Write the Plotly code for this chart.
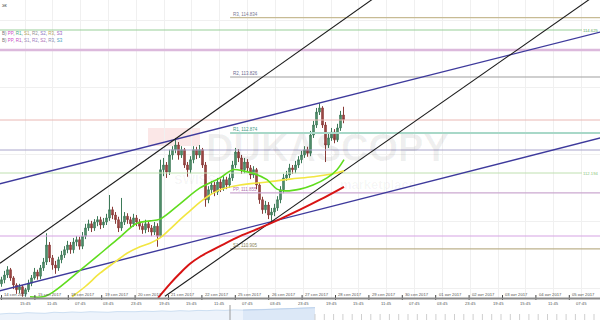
import plotly.graph_objects as go

# ---------------- data ----------------
bar_open = [110.31,110.38,110.46,110.55,110.41,110.29,110.21,110.26,110.14,110.21,
            110.32,110.41,110.51,110.44,110.58,110.68,110.97,110.75,110.63,110.58,
            110.72,110.80,110.89,110.97,110.89,111.02,111.06,110.95,111.12,111.26,
            111.33,111.26,111.36,111.40,111.31,111.36,111.43,111.57,111.48,111.40,
            111.26,111.36,111.46,111.40,111.33,111.43,111.36,111.29,111.23,111.33,
            111.26,111.19,111.29,111.12,112.25,112.33,112.21,112.50,112.59,112.67,
            112.50,112.59,112.33,112.25,112.42,112.59,112.50,112.59,112.33,111.74,
            111.91,111.99,111.87,112.04,111.94,112.08,111.99,112.11,112.33,112.55,
            112.45,112.25,112.38,112.28,112.16,112.25,111.99,111.74,111.57,111.65,
            111.48,111.53,111.60,111.74,111.91,112.11,112.16,112.28,112.25,112.33,
            112.42,112.50,112.59,112.53,112.84,113.01,113.23,113.30,113.01,112.67,
            112.79,112.89,112.76,112.96,113.18]
bar_high = [110.43,110.53,110.61,110.58,110.44,110.32,110.31,110.29,110.24,110.38,
            110.46,110.58,110.55,110.63,110.75,111.17,111.02,110.80,110.70,110.77,
            110.87,110.95,111.04,111.02,111.09,111.12,111.11,111.19,111.33,111.40,
            111.38,111.41,111.46,111.45,111.43,111.50,111.82,111.62,111.53,111.45,
            111.77,111.53,111.51,111.45,111.50,111.48,111.41,111.34,111.40,111.38,
            111.31,111.36,111.34,112.42,112.45,112.38,112.59,112.65,112.79,112.72,
            112.65,112.62,112.38,112.48,112.65,112.64,112.67,112.62,112.38,111.97,
            112.06,112.04,112.11,112.09,112.14,112.13,112.18,112.40,112.62,112.60,
            112.50,112.45,112.43,112.33,112.31,112.28,112.04,111.79,111.72,111.70,
            111.60,111.67,111.80,111.97,112.18,112.23,112.35,112.33,112.40,112.48,
            112.57,112.65,112.64,112.91,113.08,113.30,113.38,113.33,113.06,112.86,
            112.96,112.94,113.03,113.25,113.32]
bar_low = [110.26,110.32,110.41,110.36,110.22,110.14,110.15,110.09,110.09,110.17,
           110.27,110.38,110.38,110.39,110.53,110.63,110.68,110.55,110.48,110.53,
           110.66,110.75,110.83,110.82,110.83,110.95,110.89,110.90,111.07,111.21,
           111.19,111.21,111.29,111.24,111.26,111.31,111.38,111.41,111.33,111.19,
           111.21,111.31,111.33,111.26,111.28,111.29,111.23,111.16,111.17,111.19,
           111.12,111.14,110.94,111.09,112.14,112.11,112.16,112.42,112.53,112.42,
           112.45,112.28,112.13,112.19,112.36,112.43,112.45,112.28,111.62,111.68,
           111.84,111.80,111.82,111.87,111.89,111.92,111.94,112.06,112.28,112.38,
           112.18,112.19,112.21,112.09,112.11,111.92,111.67,111.50,111.51,111.41,
           111.38,111.46,111.55,111.68,111.85,112.06,112.11,112.18,112.19,112.28,
           112.36,112.45,112.47,112.48,112.79,112.96,113.18,112.96,112.38,112.62,
           112.74,112.70,112.72,112.91,113.04]
bar_close = [110.38,110.46,110.55,110.41,110.29,110.21,110.26,110.14,110.21,110.32,
             110.41,110.51,110.44,110.58,110.68,110.97,110.75,110.63,110.58,110.72,
             110.80,110.89,110.97,110.89,111.02,111.06,110.95,111.12,111.26,111.33,
             111.26,111.36,111.40,111.31,111.36,111.43,111.57,111.48,111.40,111.26,
             111.36,111.46,111.40,111.33,111.43,111.36,111.29,111.23,111.33,111.26,
             111.19,111.29,111.12,112.25,112.33,112.21,112.50,112.59,112.67,112.50,
             112.59,112.33,112.25,112.42,112.59,112.50,112.59,112.33,111.74,111.91,
             111.99,111.87,112.04,111.94,112.08,111.99,112.11,112.33,112.55,112.45,
             112.25,112.38,112.28,112.16,112.25,111.99,111.74,111.57,111.65,111.48,
             111.53,111.60,111.74,111.91,112.11,112.16,112.28,112.25,112.33,112.42,
             112.50,112.59,112.53,112.84,113.01,113.23,113.30,113.01,112.67,112.79,
             112.89,112.76,112.96,113.18,113.10]
bar_index = list(range(len(bar_close)))

ma_green_x = [9.5,13.83,17.17,27.17,38.5,45.17,49.5,52.83,59.5,66.17,72.83,77.17,80.5,83.83,88.5,91.83,94.5,99.5,103.83,108.5,111.83,114.17]
ma_green_y = [110.09,110.09,110.17,110.58,111.06,111.34,111.38,111.41,111.67,111.94,112.11,112.25,112.23,112.19,112.08,111.92,111.89,111.92,111.99,112.11,112.25,112.42]
ma_yellow_x = [23.5,27.83,32.83,37.83,41.83,46.17,49.5,52.83,56.17,59.5,62.83,66.17,69.5,72.83,79.5,88.5,96.17,103.83,110.5,114.17]
ma_yellow_y = [110.09,110.26,110.49,110.68,110.83,110.94,111.00,111.09,111.24,111.40,111.55,111.70,111.82,111.91,111.99,112.04,112.09,112.13,112.18,112.23]
ma_red_x = [52.17,56.17,59.5,62.83,66.17,72.83,79.5,86.17,92.83,99.5,106.17,114.17]
ma_red_y = [110.07,110.31,110.49,110.65,110.77,110.95,111.12,111.26,111.41,111.57,111.74,111.96]

trend_black1 = ([-0.5, 132.83], [110.66, 115.48])
trend_black2 = ([54.5, 202.83], [110.10, 115.39])
trend_blue1 = ([-2.17, 201.17], [111.99, 114.61])
trend_blue2 = ([-2.17, 201.17], [110.17, 112.81])

full_levels = [114.625, 114.285, 113.095, 112.585, 112.194, 111.123]
full_colors = ["#98cf98", "#dcb9dc", "#eab8b4", "#aaa6cc", "#bfe0b0", "#d6a3e4"]
full_widths = [1, 2.5, 1, 1, 1, 1.2]
full_end = [193.5, 199.5, 199.5, 199.5, 193.5, 199.5]

week_names = ["R3", "R2", "R1", "PP", "S1"]
week_levels = [114.834, 113.826, 112.874, 111.855, 110.905]
week_colors = ["#c7bb94", "#a0a0a0", "#a8d8c8", "#cba8d0", "#bdb28c"]
week_widths = [1.2, 1.2, 2.2, 1.2, 1.2]
week_text = ["#7a7a95", "#6a6a90", "#3f9a86", "#b070b0", "#8a7f55"]
week_start = 76.2

date_labels = ["14 сен 2017","15 сен 2017","18 сен 2017","19 сен 2017","20 сен 2017","21 сен 2017",
               "22 сен 2017","25 сен 2017","26 сен 2017","27 сен 2017","28 сен 2017","29 сен 2017",
               "30 сен 2017","01 окт 2017","02 окт 2017","03 окт 2017","04 окт 2017","05 окт 2017"]
time_labels = ["19:45","15:45","11:45","07:45","03:45","23:45","19:45","15:45","11:45","07:45","03:45",
               "23:45","19:45","15:45","11:45","07:45","03:45","23:45","19:45","15:45","11:45","07:45"]

nav_vals = [0.45,0.5,0.48,0.55,0.52,0.5,0.58,0.55,0.6,0.57,0.62,0.6,0.58,0.63,0.6,0.62,0.66,0.64,
            0.68,0.65,0.7,0.67,0.72,0.7,0.74,0.72,0.76,0.74,0.78,0.77,0.8,0.82,0.85,0.83,0.88,0.92]

# ---------------- layout helpers ----------------
W, H = 600, 320
PX_PER_BAR = 3.0
DAY_BARS = 33.4 / PX_PER_BAR
TICK_BARS = 27.83 / PX_PER_BAR
date_ticks = [DAY_BARS * k for k in range(len(date_labels))]
time_ticks = [(25 - 1.5) / PX_PER_BAR + TICK_BARS * (k - 1) for k in range(len(time_labels))]
FONT = "Liberation Sans, Arial, sans-serif"

def py(pix):  # paper y from pixel from top
    return 1 - pix / H

fig = go.Figure()

for lv, c, w, e in zip(full_levels, full_colors, full_widths, full_end):
    fig.add_trace(go.Scatter(x=[-0.5, e], y=[lv, lv], mode="lines",
                             line=dict(color=c, width=w), hoverinfo="skip"))
for lv, c, w in zip(week_levels, week_colors, week_widths):
    fig.add_trace(go.Scatter(x=[week_start, 199.5], y=[lv, lv], mode="lines",
                             line=dict(color=c, width=w), hoverinfo="skip"))

for (tx, ty), c, w in [(trend_blue1, "#3e3a9c", 1.4), (trend_blue2, "#3e3a9c", 1.4),
                       (trend_black1, "#1c1c1c", 1.1), (trend_black2, "#1c1c1c", 1.1)]:
    fig.add_trace(go.Scatter(x=tx, y=ty, mode="lines", line=dict(color=c, width=w), hoverinfo="skip"))

fig.add_trace(go.Candlestick(x=bar_index, open=bar_open, high=bar_high, low=bar_low, close=bar_close,
                             increasing=dict(line=dict(color="#3d7a58", width=1), fillcolor="#5f9c78"),
                             decreasing=dict(line=dict(color="#8a3b38", width=1), fillcolor="#a8514d"),
                             whiskerwidth=0))

fig.add_trace(go.Scatter(x=ma_yellow_x, y=ma_yellow_y, mode="lines", line=dict(color="#f2e641", width=1.6, shape="spline")))
fig.add_trace(go.Scatter(x=ma_green_x, y=ma_green_y, mode="lines", line=dict(color="#5fdc1e", width=1.6, shape="spline")))
fig.add_trace(go.Scatter(x=ma_red_x, y=ma_red_y, mode="lines", line=dict(color="#d81414", width=2.0, shape="spline")))

nav_x = list(range(len(nav_vals)))
fig.add_trace(go.Scatter(x=nav_x, y=nav_vals, xaxis="x2", yaxis="y2", mode="lines", fill="tozeroy",
                         fillcolor="#edf3fb", line=dict(color="#cddff2", width=1)))
fig.add_trace(go.Scatter(x=nav_x[27:], y=nav_vals[27:], xaxis="x2", yaxis="y2", mode="lines", fill="tozeroy",
                         fillcolor="#dce8f7", line=dict(color="#bdd2ec", width=1)))

annotations = []
shapes = []

# watermark
shapes.append(dict(type="rect", xref="paper", yref="paper", x0=148 / W, x1=200 / W,
                   y0=py(146), y1=py(128), fillcolor="rgba(225,70,70,0.13)", line=dict(width=0), layer="below"))
annotations.append(dict(text="<b>DUKASCOPY</b>", xref="paper", yref="paper", x=327 / W, y=py(148),
                        showarrow=False, font=dict(family=FONT, size=38, color="rgba(0,0,0,0.06)")))
annotations.append(dict(text="<b>SWISS</b>", xref="paper", yref="paper", x=172 / W, y=py(179),
                        showarrow=False, font=dict(family=FONT, size=13, color="rgba(0,0,0,0.045)")))
annotations.append(dict(text="<b>marketplace</b>", xref="paper", yref="paper", x=378 / W, y=py(184),
                        showarrow=False, font=dict(family=FONT, size=13, color="rgba(0,0,0,0.045)")))

for n, lv, tc in zip(week_names, week_levels, week_text):
    annotations.append(dict(text=f"{n}, {lv:.3f}", x=week_start + 0.4, y=lv, xref="x", yref="y",
                            xanchor="left", yanchor="bottom", showarrow=False, yshift=-1,
                            font=dict(family=FONT, size=4.5, color=tc)))
annotations.append(dict(text=f"{full_levels[0]:.3f}", x=1, y=full_levels[0], xref="paper", yref="y",
                        xanchor="right", yanchor="middle", showarrow=False,
                        font=dict(family=FONT, size=4.2, color="#5aa85a")))
annotations.append(dict(text=f"{full_levels[4]:.3f}", x=1, y=full_levels[4], xref="paper", yref="y",
                        xanchor="right", yanchor="middle", showarrow=False,
                        font=dict(family=FONT, size=4.2, color="#8cc47a")))

def span(t, c):
    return f'<span style="color:{c}">{t}</span>'
row1 = span("B) ", "#777") + ", ".join([span("PP", "#d050c8"), span("R1", "#3fae7e"), span("S1", "#b3a35c"),
                                        span("R2", "#8f8f8f"), span("S2", "#8a74c4"), span("R3", "#b3a35c"),
                                        span("S3", "#9a5cc4")])
row2 = span("B) ", "#777") + ", ".join([span("PP", "#d050c8"), span("R1", "#c050c0"), span("S1", "#a08ab8"),
                                        span("R2", "#9a7cc0"), span("S2", "#b070b8"), span("R3", "#8a8ab0"),
                                        span("S3", "#3fa0c0")])
for r, yy in [(row1, 33), (row2, 40)]:
    annotations.append(dict(text=r, xref="paper", yref="paper", x=0, y=py(yy), xanchor="left",
                            yanchor="middle", showarrow=False, font=dict(family=FONT, size=4.5)))
annotations.append(dict(text="эк", xref="paper", yref="paper", x=0, y=py(5), xanchor="left",
                        yanchor="middle", showarrow=False, font=dict(family=FONT, size=5, color="#555")))

for t, lab in zip(date_ticks, date_labels):
    annotations.append(dict(text=lab, x=t + 0.3, y=py(294.5), xref="x", yref="paper", xanchor="left",
                            yanchor="middle", showarrow=False, font=dict(family=FONT, size=4.2, color="#555")))
    shapes.append(dict(type="line", xref="x", yref="paper", x0=t, x1=t, y0=py(300), y1=py(295),
                       line=dict(color="#444", width=1)))
for t, lab in zip(time_ticks, time_labels):
    annotations.append(dict(text=lab, x=t, y=py(303.5), xref="x", yref="paper", xanchor="center",
                            yanchor="middle", showarrow=False, font=dict(family=FONT, size=4.2, color="#555")))

shapes.append(dict(type="line", xref="paper", yref="paper", x0=0, x1=1, y0=py(298.5), y1=py(298.5),
                   line=dict(color="#8c8c8c", width=2)))
shapes.append(dict(type="line", xref="paper", yref="paper", x0=230 / W, x1=230 / W, y0=0, y1=py(305),
                   line=dict(color="#9a9a9a", width=1)))
k = 0
while 315 + 9.3 * k < W:
    xx = (315 + 9.3 * k) / W
    shapes.append(dict(type="line", xref="paper", yref="paper", x0=xx, x1=xx, y0=0, y1=py(314),
                       line=dict(color="#cfcfcf", width=1)))
    k += 1

grid_prices = [114.795, 113.656, 112.517, 111.378, 110.239]

fig.update_layout(
    width=W, height=H, autosize=False,
    margin=dict(l=0, r=0, t=0, b=0, pad=0),
    paper_bgcolor="white", plot_bgcolor="white",
    showlegend=False,
    xaxis=dict(domain=[0, 1], range=[-0.5, 199.5], anchor="y", tickvals=time_ticks, showticklabels=False,
               showgrid=True, gridcolor="#f0f0f0", gridwidth=1, zeroline=False, showline=False, ticks="",
               rangeslider=dict(visible=False), fixedrange=True),
    yaxis=dict(domain=[1 - 298 / H, 1], range=[110.069, 115.135], anchor="x", tickvals=grid_prices,
               showticklabels=False, showgrid=True, gridcolor="#f0f0f0", zeroline=False, showline=False, ticks=""),
    xaxis2=dict(domain=[0, 1], range=[0, 35 * W / 315], anchor="y2", visible=False),
    yaxis2=dict(domain=[0, 14 / H], range=[0, 1.05], anchor="x2", visible=False),
    annotations=annotations,
    shapes=shapes,
    font=dict(family=FONT),
)

fig.write_html("out.html")
